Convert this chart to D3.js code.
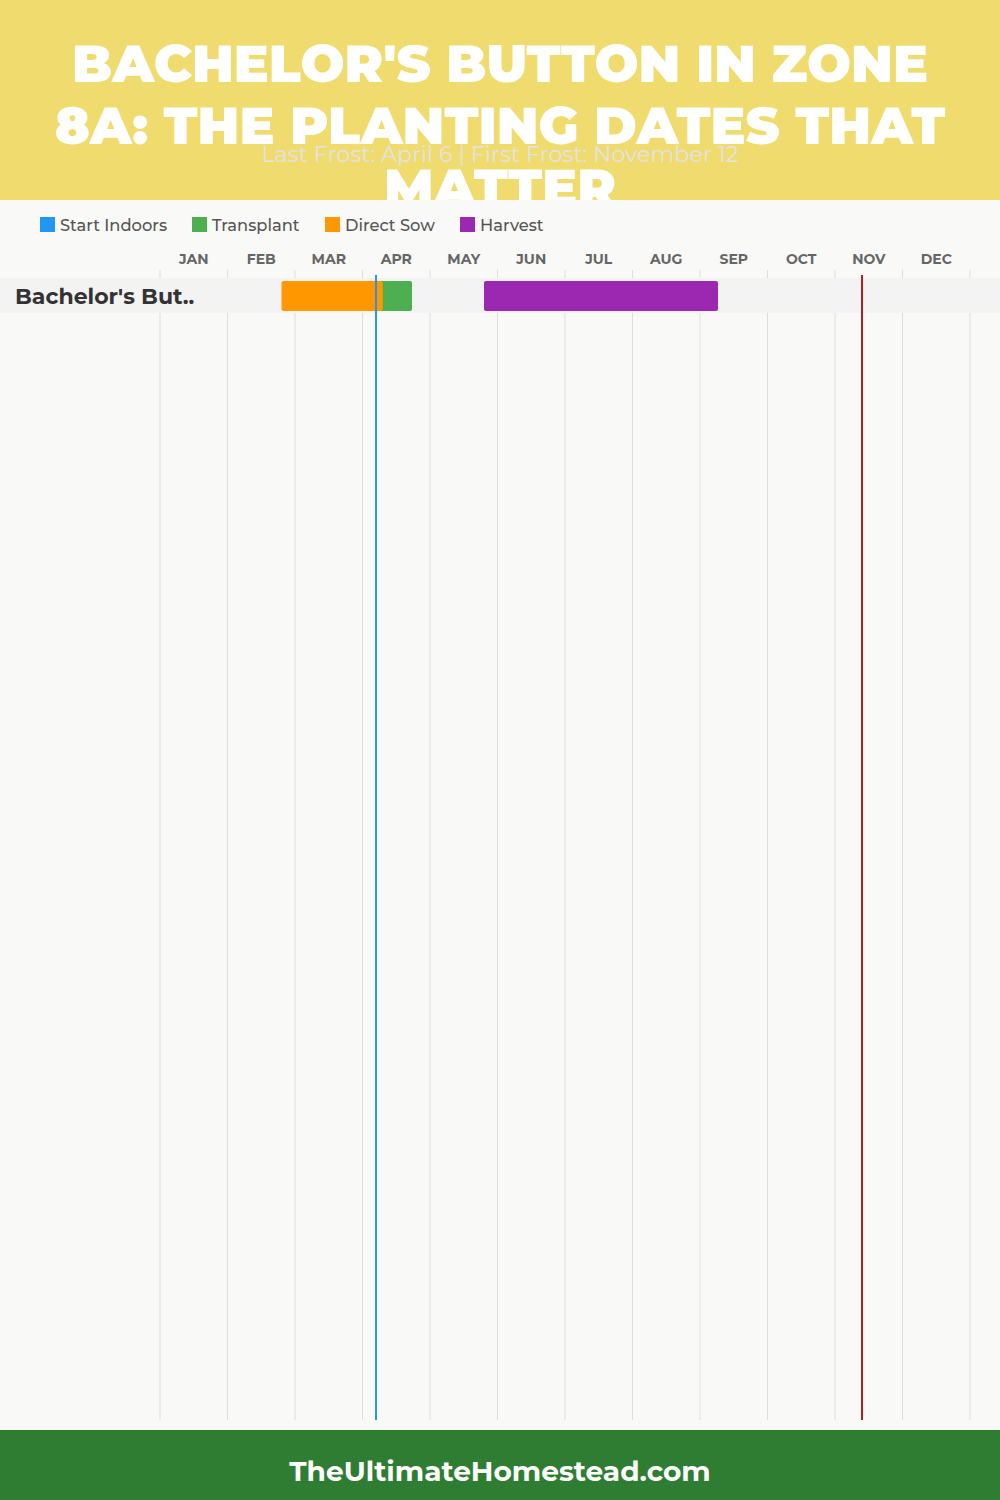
<!DOCTYPE html>
<html><head><meta charset="utf-8">
<script src="https://cdn.jsdelivr.net/npm/d3@7"></script>
<style>body{margin:0;background:#f9f9f7;} svg{display:block;}</style>
</head><body>
<svg id="chart" width="1000" height="1500"></svg>
<script>
const months = ["JAN","FEB","MAR","APR","MAY","JUN","JUL","AUG","SEP","OCT","NOV","DEC"];
const crops = ["Bachelor's But.."];
const legendItems = ["Start Indoors","Transplant","Direct Sow","Harvest"];
const legendColors = ["#2196F3","#4CAF50","#FF9800","#9C27B0"];
// [crop, startMonth(0-based), startDay, endMonth, endDay]
const transplant = [["Bachelor's But..", 3, 1, 3, 22]];
const directSow = [["Bachelor's But..", 1, 24, 3, 9]];
const harvest = [["Bachelor's But..", 4, 24, 8, 8]];
const lastFrost = [3, 6];
const firstFrost = [10, 12];
const titleLines = ["BACHELOR'S BUTTON IN ZONE","8A: THE PLANTING DATES THAT","MATTER"];
const subtitle = "Last Frost: April 6 | First Frost: November 12";
const footer = "TheUltimateHomestead.com";

const svg = d3.select("#chart");
const W = 1000, H = 1500;
const x = d3.scaleLinear().domain([0, 12]).range([160, 970]);
const mval = (m, d) => m + d / 30;
const y = d3.scaleBand().domain(crops).range([278, 313]).padding(0);

// header
svg.append("rect").attr("x",0).attr("y",0).attr("width",W).attr("height",200).attr("fill","#F0DB6E");
const tf = "Montserrat, 'Open Sans', Inter, sans-serif";
svg.selectAll("text.title").data(titleLines).enter().append("text")
  .attr("class","title").attr("x",500).attr("y",(d,i)=>82+i*62)
  .attr("text-anchor","middle").attr("fill","#fff")
  .attr("font-family",tf).attr("font-weight",900).attr("font-size",52)
  .text(d=>d);
svg.append("text").attr("x",500).attr("y",162).attr("text-anchor","middle")
  .attr("fill","#e3e3e3").attr("font-family",tf).attr("font-weight",400).attr("font-size",22.4)
  .text(subtitle);

// body bg
svg.append("rect").attr("x",0).attr("y",200).attr("width",W).attr("height",1230).attr("fill","#f9f9f7");

// legend
const lx = [40,192,325,460];
const lg = svg.selectAll("g.leg").data(legendItems).enter().append("g").attr("class","leg")
  .attr("transform",(d,i)=>`translate(${lx[i]},217)`);
lg.append("rect").attr("width",15).attr("height",15).attr("fill",(d,i)=>legendColors[i]);
lg.append("text").attr("x",20).attr("y",14).attr("fill","#555").attr("font-family",tf)
  .attr("font-weight",500).attr("font-size",16.3).text(d=>d);

// month labels
svg.selectAll("text.month").data(months).enter().append("text").attr("class","month")
  .attr("x",(d,i)=>x(i+0.5)).attr("y",264).attr("text-anchor","middle")
  .attr("fill","#666").attr("font-family",tf).attr("font-weight",700).attr("font-size",14)
  .text(d=>d);

// gridlines
svg.selectAll("line.grid").data(d3.range(13)).enter().append("line").attr("class","grid")
  .attr("x1",d=>x(d)).attr("x2",d=>x(d)).attr("y1",270).attr("y2",1420)
  .attr("stroke","#dddddd").attr("stroke-width",1);

// row band
svg.selectAll("rect.band").data(crops).enter().append("rect").attr("class","band")
  .attr("x",0).attr("width",W).attr("y",d=>y(d)).attr("height",y.bandwidth()).attr("fill","#f3f3f3");

svg.selectAll("text.crop").data(crops).enter().append("text")
  .attr("x",15).attr("y",d=>y(d)+y.bandwidth()/2+8).attr("fill","#333")
  .attr("font-family",tf).attr("font-weight",700).attr("font-size",22).text(d=>d);

function bars(data, color){
  svg.append("g").selectAll("rect").data(data).enter().append("rect")
    .attr("x",d=>x(mval(d[1],d[2]))).attr("width",d=>x(mval(d[3],d[4]))-x(mval(d[1],d[2])))
    .attr("y",d=>y(d[0])+3).attr("height",y.bandwidth()-5).attr("rx",2)
    .attr("fill",color);
}
bars(transplant, legendColors[1]);
bars(directSow, legendColors[2]);
bars(harvest, legendColors[3]);

// frost lines
svg.append("line").attr("x1",x(mval(...lastFrost))).attr("x2",x(mval(...lastFrost)))
  .attr("y1",275).attr("y2",1420).attr("stroke","#2196F3").attr("stroke-width",2);
svg.append("line").attr("x1",x(mval(...firstFrost))).attr("x2",x(mval(...firstFrost)))
  .attr("y1",275).attr("y2",1420).attr("stroke","#B71C1C").attr("stroke-width",2);

// footer
svg.append("rect").attr("x",0).attr("y",1430).attr("width",W).attr("height",70).attr("fill","#2E7D32");
svg.append("text").attr("x",500).attr("y",1481).attr("text-anchor","middle").attr("fill","#fff")
  .attr("font-family",tf).attr("font-weight",700).attr("font-size",28).text(footer);
</script>
</body></html>
